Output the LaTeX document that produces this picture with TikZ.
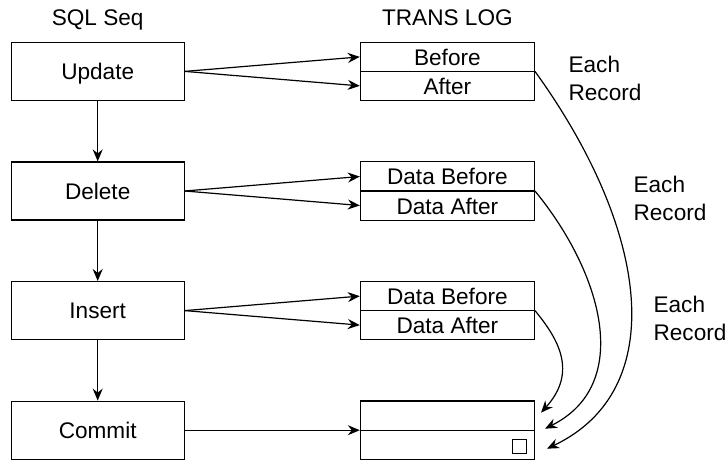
\documentclass[tikz,border=0pt]{standalone}
\usepackage{fontspec}
\setmainfont{Liberation Sans}
\usetikzlibrary{matrix,arrows.meta,calc,shapes.multipart}
\newcommand{\rowstrut}{\rule[-2.8pt]{0pt}{14pt}}

\begin{document}
\begin{tikzpicture}[
	font=\fontsize{11.3}{14}\selectfont,
	line width=0.6pt,
	>={Stealth[length=6pt,width=5pt,inset=2pt]},
	stepbox/.style={draw, minimum width=86.5pt, minimum height=29pt, inner sep=0pt, text height=8pt, text depth=0pt},
	logbox/.style={draw, rectangle split, rectangle split parts=2, minimum width=87pt, inner xsep=0pt, inner ysep=0pt, text height=11.2pt, text depth=2.8pt},
	note/.style={anchor=north west, align=left, inner sep=0pt}
]
\useasboundingbox (0,0) rectangle (362.5pt,-230.5pt);
\matrix (m) [matrix of nodes, anchor=north west, inner sep=0pt, row sep=30pt, column sep=87.5pt, nodes={anchor=center},
	column 1/.style={nodes={stepbox}}, column 2/.style={nodes={logbox}}] at (5pt,-20.5pt)
{
	Update & Before \nodepart{two}\rowstrut After \\
	Delete & Data Before \nodepart{two}\rowstrut Data After \\
	Insert & Data Before \nodepart{two}\rowstrut Data After \\
	Commit & \mbox{} \nodepart{two}\rowstrut \\
};
\node[anchor=base] (seq) at ([yshift=8pt]m-1-1.north) {SQL Seq};
\node[anchor=base] (log) at ([yshift=8pt]m-1-2.north) {TRANS LOG};
\node[draw, minimum size=7pt, inner sep=0pt, anchor=south east, line width=0.5pt] (flag) at ([xshift=-4pt,yshift=3pt]m-4-2.south east) {};
\coordinate (in1) at ([xshift=3pt,yshift=8.75pt]m-4-2.east);
\coordinate (in2) at ([xshift=5pt,yshift=0.75pt]m-4-2.east);
\coordinate (in3) at ([xshift=6pt,yshift=-9.25pt]m-4-2.east);
\path[->]
(m-1-1) edge (m-2-1)
(m-2-1) edge (m-3-1)
(m-3-1) edge (m-4-1)
(m-1-1.east) edge ([yshift=7.25pt]m-1-2.west)
(m-1-1.east) edge ([yshift=-7.25pt]m-1-2.west)
(m-2-1.east) edge ([yshift=7.25pt]m-2-2.west)
(m-2-1.east) edge ([yshift=-7.25pt]m-2-2.west)
(m-3-1.east) edge ([yshift=7.25pt]m-3-2.west)
(m-3-1.east) edge ([yshift=-7.25pt]m-3-2.west)
(m-4-1) edge (m-4-2)
;
% each record goes down to the commit
\draw[->] (m-1-2.text split east) .. controls ($(m-1-2.text split east)+(57pt,-79pt)$) and ($(in3)+(62pt,29.5pt)$) .. (in3);
\draw[->] (m-2-2.text split east) .. controls ($(m-2-2.text split east)+(34pt,-41.5pt)$) and ($(in2)+(44pt,22pt)$) .. (in2);
\draw[->] (m-3-2.text split east) .. controls ($(m-3-2.text split east)+(11.5pt,-14pt)$) and ($(in1)+(18.5pt,20.5pt)$) .. (in1);
\node[note] (rec1) at (284pt,-27.7pt) {Each\\Record};
\node[note] (rec2) at (316.5pt,-87.7pt) {Each\\Record};
\node[note] (rec3) at (326.5pt,-147.7pt) {Each\\Record};
\end{tikzpicture}
\end{document}
